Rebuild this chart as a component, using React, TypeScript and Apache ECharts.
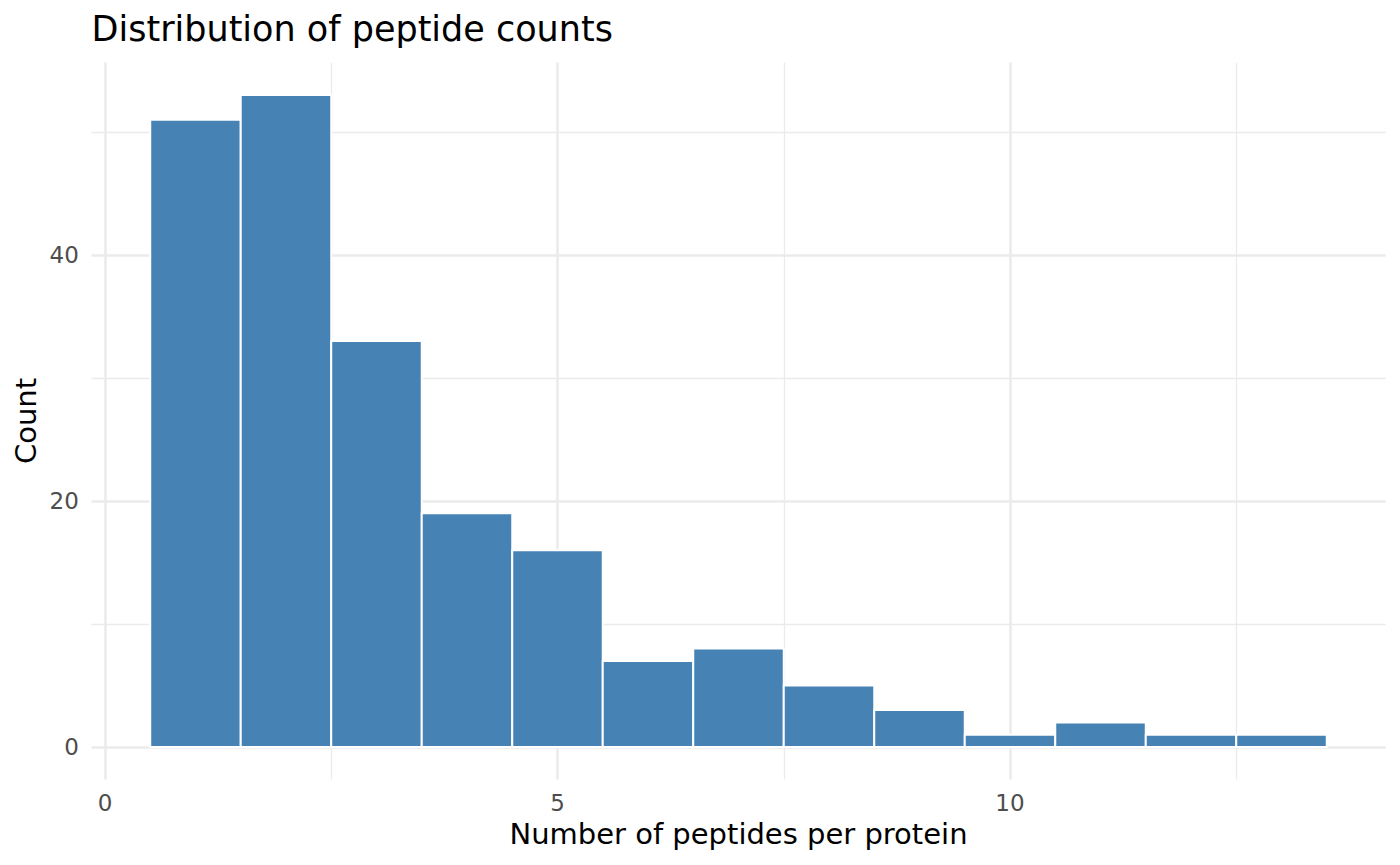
import React, { useEffect, useRef } from "react";
import * as echarts from "echarts";

const binCenters: number[] = [1, 2, 3, 4, 5, 6, 7, 8, 9, 10, 11, 12, 13];
const counts: number[] = [51, 53, 33, 19, 16, 7, 8, 5, 3, 1, 2, 1, 1];
const xMajorTicks: number[] = [0, 5, 10];
const xMinorTicks: number[] = [2.5, 7.5, 12.5];
const yMajorTicks: number[] = [0, 20, 40];
const yMinorTicks: number[] = [10, 30, 50];
const titleText = "Distribution of peptide counts";
const xTitle = "Number of peptides per protein";
const yTitle = "Count";

const FONT = "DejaVu Sans";
const GRID_COLOR = "#EBEBEB";

export default function App() {
  const ref = useRef<HTMLDivElement>(null);
  useEffect(() => {
    document.body.style.margin = "0";
    if (!ref.current) return;
    const chart = echarts.init(ref.current, null, { renderer: "svg" });
    const binWidth = 1;
    const xMin = 0.5 - 0.05 * 13;
    const xMax = 13.5 + 0.05 * 13;
    const yTop = Math.max(...counts);
    const yMin = -0.05 * yTop;
    const yMax = yTop * 1.05;

    const gridLeft = 91.4;
    const gridRight = 14.4;
    const gridTop = 62.5;
    const gridBottom = 85.4;

    const mkLine = (axis: "xAxis" | "yAxis", vals: number[]) =>
      vals.map((v) => ({ [axis]: v }));

    const option: any = {
      animation: false,
      backgroundColor: "#FFFFFF",
      grid: { left: gridLeft, right: gridRight, top: gridTop, bottom: gridBottom, containLabel: false },
      title: {
        text: titleText,
        left: 91.5,
        top: 11.4,
        padding: 0,
        textStyle: { fontFamily: FONT, fontSize: 35, fontWeight: "normal", color: "#000000", lineHeight: 35 },
      },
      xAxis: {
        type: "value",
        min: xMin,
        max: xMax,
        axisLine: { show: false, onZero: false },
        axisTick: { show: false },
        splitLine: { show: false },
        axisLabel: {
          customValues: xMajorTicks,
          margin: 12,
          fontFamily: FONT,
          fontSize: 23,
          color: "#4D4D4D",
          lineHeight: 23,
          formatter: (v: number) => String(v),
        },
      },
      yAxis: {
        type: "value",
        min: yMin,
        max: yMax,
        axisLine: { show: false, onZero: false },
        axisTick: { show: false },
        splitLine: { show: false },
        axisLabel: {
          customValues: yMajorTicks,
          margin: 12.5,
          fontFamily: FONT,
          fontSize: 23,
          color: "#4D4D4D",
          formatter: (v: number) => String(v),
        },
      },
      graphic: [
        {
          type: "text",
          x: (gridLeft + (1400 - gridRight)) / 2,
          y: 834,
          style: {
            text: xTitle,
            fontFamily: FONT,
            fontSize: 29,
            fill: "#000000",
            align: "center",
            verticalAlign: "middle",
          },
        },
        {
          type: "text",
          x: 25.5,
          y: gridTop + (865 - gridBottom - gridTop) / 2,
          rotation: Math.PI / 2,
          style: {
            text: yTitle,
            fontFamily: FONT,
            fontSize: 29,
            fill: "#000000",
            align: "center",
            verticalAlign: "middle",
          },
        },
      ],
      series: [
        {
          type: "line",
          data: [],
          z: 1,
          silent: true,
          markLine: {
            z: 1,
            silent: true,
            symbol: ["none", "none"],
            label: { show: false },
            animation: false,
            lineStyle: { color: GRID_COLOR, width: 1.3, type: "solid" },
            data: [...mkLine("xAxis", xMinorTicks), ...mkLine("yAxis", yMinorTicks)],
          },
        },
        {
          type: "line",
          data: [],
          z: 1,
          silent: true,
          markLine: {
            z: 1,
            silent: true,
            symbol: ["none", "none"],
            label: { show: false },
            animation: false,
            lineStyle: { color: GRID_COLOR, width: 2.6, type: "solid" },
            data: [...mkLine("xAxis", xMajorTicks), ...mkLine("yAxis", yMajorTicks)],
          },
        },
        {
          type: "custom",
          z: 10,
          data: binCenters.map((c, i) => [c, counts[i]]),
          renderItem: (params: any, api: any) => {
            const x = api.value(0);
            const y = api.value(1);
            const p0 = api.coord([x - binWidth / 2, y]);
            const p1 = api.coord([x + binWidth / 2, 0]);
            return {
              type: "rect",
              shape: { x: p0[0], y: p0[1], width: p1[0] - p0[0], height: p1[1] - p0[1] },
              style: { fill: "#4682B4", stroke: "#FFFFFF", lineWidth: 2 },
            };
          },
        },
      ],
    };
    chart.setOption(option);
    return () => chart.dispose();
  }, []);
  return <div ref={ref} style={{ width: 1400, height: 865 }} />;
}
